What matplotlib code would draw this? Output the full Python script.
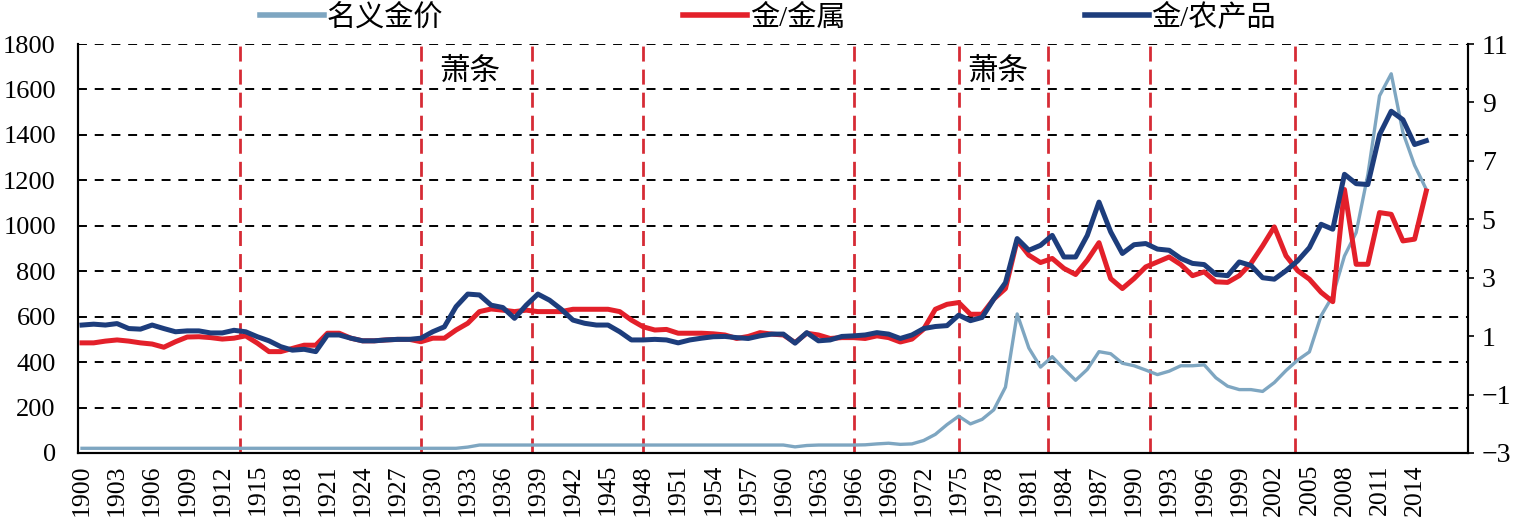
import matplotlib
matplotlib.use("Agg")
import matplotlib.pyplot as plt

plt.rcParams["font.family"] = ["Liberation Serif", "Noto Sans CJK SC"]

years = list(range(1900, 2016))

# 名义金价 (left axis, USD/oz)
nominal_gold = [
    20.67, 20.67, 20.67, 20.67, 20.67, 20.67, 20.67, 20.67, 20.67, 20.67,
    20.67, 20.67, 20.67, 20.67, 20.67, 20.67, 20.67, 20.67, 20.67, 20.67,
    20.67, 20.67, 20.67, 20.67, 20.67, 20.67, 20.67, 20.67, 20.67, 20.67,
    20.67, 20.67, 20.67, 26, 35, 35, 35, 35, 35, 35,
    35, 35, 35, 35, 35, 35, 35, 35, 35, 35,
    35, 35, 35, 35, 35, 35, 35, 35, 35, 35,
    35, 27, 33, 35, 35, 35, 35, 36, 40, 43,
    38, 40, 55, 82, 125, 162, 128, 148, 190, 290,
    612, 462, 378, 424, 370, 320, 368, 446, 437, 395,
    384, 365, 345, 360, 384, 384, 388, 331, 294, 279,
    279, 271, 310, 363, 409, 445, 604, 692, 867, 970,
    1225, 1572, 1669, 1411, 1266, 1160,
]

# 金/金属 (right axis)
gold_metals = [
    0.77, 0.77, 0.83, 0.87, 0.83, 0.77, 0.73, 0.62, 0.81, 0.97,
    0.98, 0.95, 0.90, 0.93, 1.01, 0.76, 0.47, 0.47, 0.58, 0.69,
    0.69, 1.10, 1.10, 0.93, 0.84, 0.84, 0.87, 0.89, 0.89, 0.81,
    0.93, 0.93, 1.21, 1.44, 1.84, 1.93, 1.89, 1.84, 1.89, 1.84,
    1.84, 1.84, 1.92, 1.92, 1.92, 1.92, 1.84, 1.55, 1.32, 1.21,
    1.23, 1.10, 1.10, 1.10, 1.08, 1.04, 0.92, 0.99, 1.12, 1.07,
    1.04, 0.78, 1.10, 1.04, 0.92, 0.95, 0.95, 0.92, 1.01, 0.95,
    0.80, 0.90, 1.24, 1.92, 2.09, 2.15, 1.75, 1.75, 2.27, 2.63,
    4.28, 3.77, 3.52, 3.66, 3.32, 3.11, 3.60, 4.20, 2.97, 2.63,
    2.97, 3.37, 3.54, 3.71, 3.45, 3.07, 3.20, 2.86, 2.84, 3.07,
    3.49, 4.09, 4.74, 3.75, 3.24, 2.95, 2.50, 2.18, 6.02, 3.46,
    3.46, 5.23, 5.17, 4.26, 4.32, 5.97,
]

# 金/农产品 (right axis)
gold_agri = [
    1.38, 1.41, 1.38, 1.43, 1.26, 1.24, 1.38, 1.26, 1.15, 1.18,
    1.18, 1.11, 1.11, 1.20, 1.15, 0.98, 0.84, 0.64, 0.52, 0.55,
    0.47, 1.04, 1.04, 0.93, 0.84, 0.84, 0.87, 0.89, 0.89, 0.93,
    1.15, 1.32, 2.01, 2.44, 2.41, 2.06, 1.98, 1.61, 2.06, 2.44,
    2.23, 1.92, 1.55, 1.44, 1.38, 1.38, 1.15, 0.87, 0.87, 0.89,
    0.87, 0.77, 0.87, 0.93, 0.98, 0.99, 0.95, 0.92, 1.01, 1.07,
    1.07, 0.76, 1.12, 0.84, 0.87, 0.99, 1.01, 1.04, 1.12, 1.07,
    0.92, 1.04, 1.26, 1.33, 1.36, 1.72, 1.53, 1.64, 2.27, 2.83,
    4.34, 3.94, 4.11, 4.45, 3.71, 3.71, 4.45, 5.59, 4.57, 3.83,
    4.13, 4.17, 3.98, 3.94, 3.66, 3.49, 3.45, 3.11, 3.07, 3.54,
    3.42, 3.00, 2.95, 3.24, 3.58, 4.03, 4.83, 4.66, 6.54, 6.22,
    6.19, 7.90, 8.70, 8.41, 7.56, 7.69,
]

break_years = [1913.5, 1929, 1938.5, 1948, 1966, 1975, 1982.6, 1991.4, 2003.8]
slump_years = [1933.2, 1978.3]
slump_label = "萧条"

C_NOMINAL = "#7ea6c1"
C_METALS = "#e3202a"
C_AGRI = "#1d3d7c"
C_BREAK = "#d62b35"

fig = plt.figure(figsize=(15.18, 5.18), dpi=100)
ax = fig.add_axes([0.0514, 0.1255, 0.9156, 0.7895])
ax2 = ax.twinx()

ax.grid(axis="y", color="black", linestyle=(0, (4.6, 4.0)), linewidth=1.4)
ax.set_axisbelow(True)

for b in break_years:
    ax.axvline(b, color=C_BREAK, linestyle=(0, (5.4, 2.9)), linewidth=2, zorder=1.5)

l1, = ax.plot(years, nominal_gold, color=C_NOMINAL, linewidth=2.4, zorder=3,
              label="名义金价")
l2, = ax2.plot(years, gold_metals, color=C_METALS, linewidth=3.6, label="金/金属")
l3, = ax2.plot(years, gold_agri, color=C_AGRI, linewidth=3.6, label="金/农产品")

for sx in slump_years:
    ax.text(sx, 1676, slump_label, ha="center", va="center", fontsize=22)

ax.set_xlim(1899.66, 2018.56)
ax.set_ylim(0, 1800)
ax2.set_ylim(-3, 11)
ax.set_yticks(range(0, 1801, 200))
ax2.set_yticks(range(-3, 12, 2))
xt = list(range(1900, 2015, 3))
ax.set_xticks(xt)
ax.set_xticklabels([str(x) for x in xt], rotation=90)

ax.tick_params(axis="x", length=0, pad=8, labelsize=18.5)
ax.tick_params(axis="y", length=0, pad=16, labelsize=19)
ax2.tick_params(axis="y", length=4, width=1.2, direction="out", pad=6, labelsize=20)

for a in (ax, ax2):
    a.spines["top"].set_visible(False)
    for s in ("left", "right", "bottom"):
        a.spines[s].set_linewidth(1.5)
        a.spines[s].set_color("black")

leg = fig.legend(handles=[l1, l2, l3], loc="center", bbox_to_anchor=(0.506, 0.966),
                 ncol=3, frameon=False, fontsize=21, handlelength=2.2,
                 handletextpad=0.1, columnspacing=8.2)
for h in leg.get_lines():
    h.set_linewidth(4)

fig.savefig("out.png", dpi=100)
